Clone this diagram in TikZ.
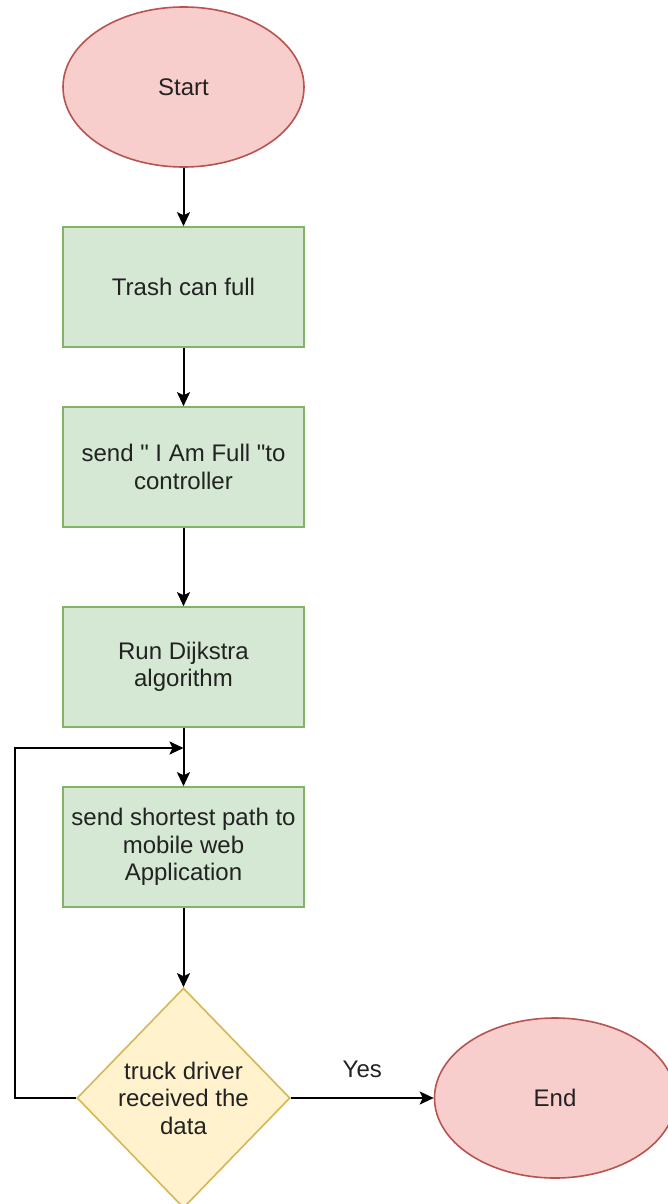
\documentclass[tikz,border=0pt]{standalone}
\usepackage{fontspec}
\setmainfont{Liberation Sans}[Ligatures=TeXOff]
\usetikzlibrary{shapes.geometric,arrows.meta}
\definecolor{termfill}{HTML}{F8CECC}
\definecolor{termline}{HTML}{B85450}
\definecolor{procfill}{HTML}{D5E8D4}
\definecolor{procline}{HTML}{82B366}
\definecolor{decfill}{HTML}{FFF2CC}
\definecolor{decline}{HTML}{D6B656}
\definecolor{txt}{HTML}{222222}
\tikzset{
  base/.style={font=\fontsize{24}{27.5}\selectfont, text=txt, align=center, line width=1.6pt},
  terminal/.style={base, ellipse, draw=termline, fill=termfill, minimum width=241pt, minimum height=160pt, inner sep=0pt},
  procbox/.style={base, rectangle, draw=procline, fill=procfill, minimum width=241pt, minimum height=120pt, inner sep=0pt},
  decision/.style={base, diamond, draw=decline, fill=decfill, minimum width=213pt, minimum height=220pt, inner sep=0pt, aspect=1},
  flow/.style={line width=2pt, -{Stealth[length=14pt,width=13pt,inset=3pt]}},
  lbl/.style={font=\fontsize{24}{27.5}\selectfont, text=txt}
}
\begin{document}
\begin{tikzpicture}[x=1pt,y=-1pt]
  \useasboundingbox (0,0) rectangle (668,1204);
  \clip (0,0) rectangle (668,1204);
  \fill[white] (0,0) rectangle (668,1204);

  \node[terminal] (start) at (183.5,87) {Start};
  \node[procbox] (full) at (183.5,287) {Trash can full};
  \node[procbox] (notify) at (183.5,467) {send " I Am Full "to\\controller};
  \node[procbox] (dijkstra) at (183.5,667) {Run Dijkstra\\algorithm};
  \node[procbox] (sendpath) at (183.5,847) {send shortest path to\\mobile web\\Application};
  \node[decision] (received) at (183.5,1098) {truck driver\\received the\\data};
  \node[terminal] (end) at (555,1098) {End};

  \coordinate (join) at (183.5,748);
  \coordinate (corner) at (15,1098);

  \draw[flow] (start) -- (full);
  \draw[flow] (full) -- (notify);
  \draw[flow] (notify) -- (dijkstra);
  \draw[flow] (dijkstra) -- (sendpath);
  \draw[flow] (sendpath) -- (received);
  \draw[flow] (received) -- node[lbl, above=16pt] (yes) {Yes} (end);
  \draw[flow] (received.west) -- (corner) |- (join);
\end{tikzpicture}
\end{document}
